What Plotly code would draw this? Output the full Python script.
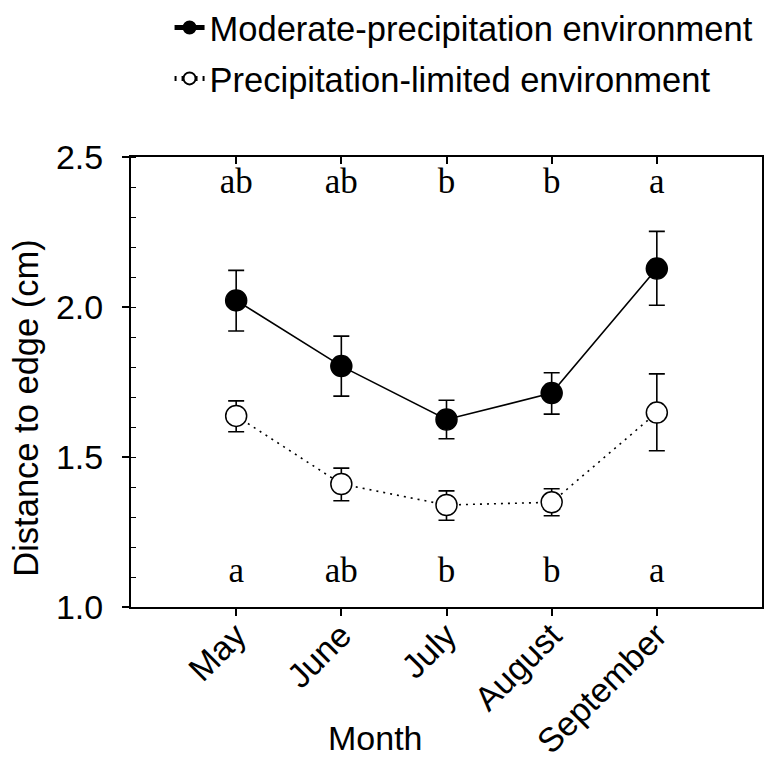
import plotly.graph_objects as go

months = ["May", "June", "July", "August", "September"]
month_pos = [1, 2, 3, 4, 5]

moderate_mean = [2.022, 1.803, 1.625, 1.713, 2.128]
moderate_err_plus = [0.100, 0.100, 0.064, 0.068, 0.124]
moderate_err_minus = [0.102, 0.100, 0.064, 0.070, 0.122]

limited_mean = [1.637, 1.410, 1.340, 1.349, 1.648]
limited_err_plus = [0.050, 0.053, 0.047, 0.045, 0.129]
limited_err_minus = [0.053, 0.056, 0.051, 0.045, 0.127]

letters_moderate = ["ab", "ab", "b", "b", "a"]
letters_limited = ["a", "ab", "b", "b", "a"]
letters_top_y = [2.41] * 5
letters_bottom_y = [1.113] * 5

fig = go.Figure()

fig.add_trace(go.Scatter(
    x=month_pos, y=moderate_mean, mode="lines+markers",
    name="Moderate-precipitation environment",
    line=dict(color="black", width=1.6),
    marker=dict(symbol="circle", size=21, color="black", line=dict(color="black", width=1.5)),
    error_y=dict(type="data", symmetric=False, array=moderate_err_plus,
                 arrayminus=moderate_err_minus, color="black", thickness=1.6, width=8),
    legendgroup="g1",
))
fig.add_trace(go.Scatter(
    x=month_pos, y=limited_mean, mode="lines+markers",
    name="Precipitation-limited environment",
    line=dict(color="black", width=1.6, dash="2px,5px"),
    marker=dict(symbol="circle", size=21, color="white", line=dict(color="black", width=1.5)),
    error_y=dict(type="data", symmetric=False, array=limited_err_plus,
                 arrayminus=limited_err_minus, color="black", thickness=1.6, width=8),
    legendgroup="g2",
))

fig.add_trace(go.Scatter(
    x=month_pos, y=letters_top_y, mode="text", text=letters_moderate,
    textfont=dict(family="Liberation Serif", size=35, color="black"),
    showlegend=False, hoverinfo="skip", xaxis="x2",
))
fig.add_trace(go.Scatter(
    x=month_pos, y=letters_bottom_y, mode="text", text=letters_limited,
    textfont=dict(family="Liberation Serif", size=35, color="black"),
    showlegend=False, hoverinfo="skip", xaxis="x2",
))

fig.update_layout(
    width=773, height=755,
    margin=dict(l=123, r=19, t=149, b=156, autoexpand=False),
    paper_bgcolor="white", plot_bgcolor="white",
    font=dict(family="Liberation Sans, Arial", color="black"),
    showlegend=True,
    legend=dict(
        xref="container", yref="paper",
        x=0.209, y=1.352, xanchor="left", yanchor="top",
        font=dict(size=34.5, color="black"),
        bgcolor="rgba(0,0,0,0)", tracegroupgap=3,
        itemsizing="constant", borderwidth=0,
    ),
    xaxis=dict(
        range=[0, 6], tickmode="array", tickvals=month_pos, ticktext=months,
        tickangle=-45, ticks="outside", ticklen=7, tickwidth=1.5, tickcolor="black",
        showline=True, linecolor="black", linewidth=2, mirror=True,
        showgrid=False, zeroline=False, automargin=False,
        ticklabelstandoff=-14,
        tickfont=dict(size=34, color="black"),
    ),
    xaxis2=dict(
        range=[0, 6], overlaying="x", side="top", tickmode="array",
        tickvals=month_pos, ticks="inside", ticklen=7, tickwidth=1.5, tickcolor="black",
        showticklabels=False, showline=False, showgrid=False, zeroline=False,
        automargin=False,
    ),
    yaxis=dict(
        range=[1.0, 2.5], tickmode="array", tickvals=[1.0, 1.5, 2.0, 2.5],
        ticktext=["1.0", "1.5", "2.0", "2.5"],
        ticks="outside", ticklen=7, tickwidth=1.5, tickcolor="black",
        minor=dict(ticks="inside", dtick=0.1, ticklen=5, tickwidth=1.2, tickcolor="black", showgrid=False),
        showline=True, linecolor="black", linewidth=2, mirror=True,
        showgrid=False, zeroline=False, automargin=False,
        ticklabelstandoff=12,
        tickfont=dict(size=34, color="black"),
    ),
    annotations=[
        dict(text="Distance to edge (cm)", xref="paper", yref="paper",
             x=-0.167, y=0.442, textangle=-90, showarrow=False,
             font=dict(size=34.5, color="black"), xanchor="center", yanchor="middle"),
        dict(text="Month", xref="paper", yref="paper",
             x=0.388, y=-0.291, showarrow=False,
             font=dict(size=34, color="black"), xanchor="center", yanchor="middle"),
    ],
)

fig.write_html("out.html")
